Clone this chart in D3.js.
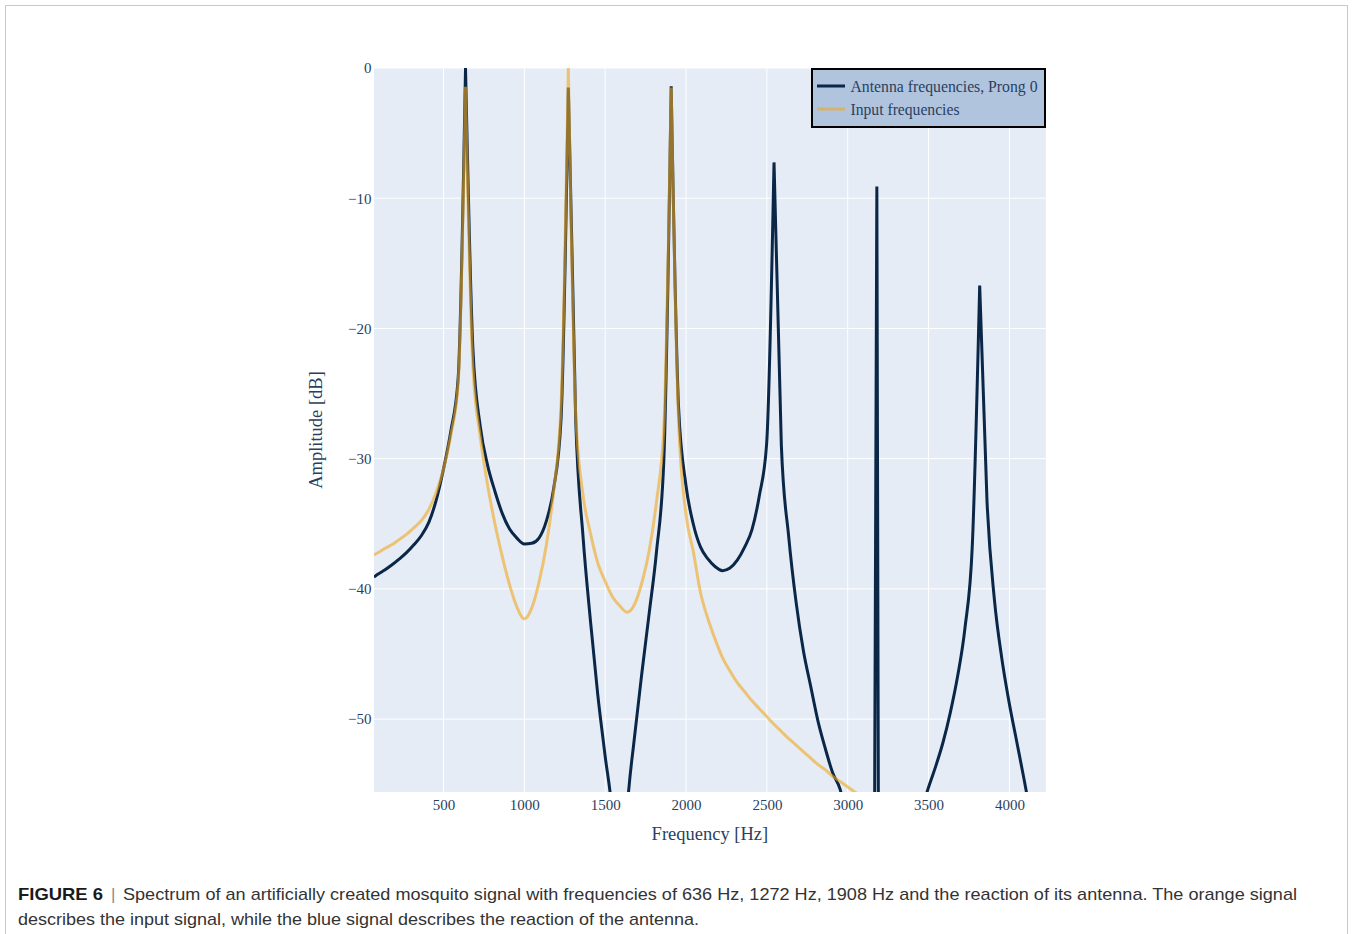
<!DOCTYPE html>
<html>
<head>
<meta charset="utf-8">
<script src="https://cdn.jsdelivr.net/npm/d3@7"></script>
<style>
  body { margin: 0; background: #ffffff; }
  svg { display: block; }
</style>
</head>
<body>
<svg id="fig" width="1352" height="934"></svg>
<script>
// Frequency bins of the spectrum [Hz]
const freqHz = [
  70, 90.9, 136.3, 181.7, 227.1, 272.6, 318.0, 363.4, 408.9, 454.3,
  499.7, 545.1, 590.6, 636, 681.4, 726.9, 772.3, 817.7, 863.1, 908.6,
  954, 999.4, 1044.9, 1090.3, 1135.7, 1181.1, 1226.6, 1272, 1317.4, 1362.9,
  1408.3, 1453.7, 1499.1, 1544.6, 1590, 1635.4, 1680.9, 1726.3, 1771.7, 1817.1,
  1862.6, 1908, 1953.4, 1998.9, 2044.3, 2089.7, 2135.1, 2180.6, 2226, 2271.4,
  2316.9, 2362.3, 2407.7, 2453.1, 2498.6, 2544, 2589.4, 2634.9, 2680.3, 2725.7,
  2771.1, 2816.6, 2862, 2907.4, 2952.9, 2998.3, 3043.7, 3089.1, 3134.6, 3180,
  3225.4, 3270.9, 3316.3, 3361.7, 3407.1, 3452.6, 3498, 3543.4, 3588.9, 3634.3,
  3679.7, 3725.1, 3770.6, 3816, 3861.4, 3906.9, 3952.3, 3997.7, 4043.1, 4088.6,
  4134, 4179.4, 4224.9
];

// Antenna response, prong 0 [dB]
const antennaDb = [
  -39.1, -38.9, -38.55, -38.15, -37.7, -37.2, -36.6, -35.9, -34.9, -33.2,
  -30.8, -27.9, -23.8, 0, -21.5, -27.5, -30.5, -32.5, -34.2, -35.4,
  -36.1, -36.55, -36.5, -36.1, -34.8, -32.3, -27.0, -1.5, -27.0, -36.0,
  -42.4, -48.1, -52.8, -57.5, -68, -57.0, -51.4, -46.5, -41.9, -37.15,
  -30.1, -1.4, -26.0, -32.0, -35.0, -36.8, -37.7, -38.3, -38.6, -38.4,
  -37.8, -36.8, -35.45, -32.85, -28.8, -7.25, -29.0, -36.0, -41.0, -44.75,
  -47.5, -50.2, -52.3, -54.15, -55.4, -58.0, -62.0, -70.0, -165, -9.1,
  -165, -70, -64, -61, -59, -57.2, -55.3, -53.65, -51.8, -49.5,
  -46.7, -43.0, -36.6, -16.7, -33.3, -40.8, -45.3, -48.7, -51.6, -54.5,
  -57.5, -60, -62
];

// Input signal [dB]
const inputDb = [
  -37.4, -37.25, -36.9, -36.6, -36.2, -35.8, -35.3, -34.75, -33.9, -32.6,
  -30.8, -28.2, -24.2, -1.45, -22.9, -28.3, -32.0, -35.0, -37.5, -39.7,
  -41.4, -42.3, -41.5, -39.5, -36.65, -32.5, -26.0, 0, -26.5, -32.8,
  -35.7, -38.0, -39.4, -40.6, -41.3, -41.8, -41.2, -39.55, -37.1, -33.3,
  -27.6, -1.5, -27.0, -34.2, -37.1, -40.3, -42.3, -43.9, -45.3, -46.3,
  -47.2, -47.9, -48.6, -49.2, -49.8, -50.4, -50.95, -51.5, -52.0, -52.5,
  -53.0, -53.5, -53.9, -54.4, -54.8, -55.2, -55.6, -56.0, -56.4, -56.8,
  -57.1, -57.5, -57.8, -58.1, -58.4, -58.7, -59.0, -59.3, -59.5, -59.8,
  -60.0, -60.3, -60.5, -60.7, -61.0, -61.2, -61.4, -61.6, -61.8, -62.0,
  -62.2, -62.4, -62.6
];

const seriesNames = ["Antenna frequencies, Prong 0", "Input frequencies"];
const xTicks = [500, 1000, 1500, 2000, 2500, 3000, 3500, 4000];
const yTicks = [0, -10, -20, -30, -40, -50];
const yRange = [-55.6, 0];

const serif = "'Liberation Serif', 'Times New Roman', serif";
const sans = "'Liberation Sans', Arial, Helvetica, sans-serif";
const axisColor = "#2a3f5f";
const navy = "#0a2748";
const orange = "#f0a81e";

const svg = d3.select("#fig");

// figure frame
svg.append("rect")
  .attr("x", 5.5).attr("y", 5.5)
  .attr("width", 1342).attr("height", 960)
  .attr("fill", "none").attr("stroke", "#c9c9c9").attr("stroke-width", 1);

const plot = { left: 374, right: 1045.8, top: 68, bottom: 792 };

const x = d3.scaleLinear()
  .domain([freqHz[0], freqHz[freqHz.length - 1]])
  .range([plot.left, plot.right]);
const y = d3.scaleLinear().domain(yRange).range([plot.bottom, plot.top]);

// plot background
svg.append("rect")
  .attr("x", plot.left).attr("y", plot.top)
  .attr("width", plot.right - plot.left).attr("height", plot.bottom - plot.top)
  .attr("fill", "#e5ecf6");

// grid
const grid = svg.append("g");
grid.selectAll("line.vx").data(xTicks).join("line")
  .attr("x1", d => x(d)).attr("x2", d => x(d))
  .attr("y1", plot.top).attr("y2", plot.bottom)
  .attr("stroke", "#ffffff").attr("stroke-width", 1);
grid.selectAll("line.hy").data(yTicks).join("line")
  .attr("x1", plot.left).attr("x2", plot.right)
  .attr("y1", d => y(d)).attr("y2", d => y(d))
  .attr("stroke", "#ffffff").attr("stroke-width", 1);

// axes (labels only)
const xAxis = svg.append("g")
  .attr("transform", `translate(0,${plot.bottom})`)
  .call(d3.axisBottom(x).tickValues(xTicks).tickSize(0).tickPadding(7.5).tickFormat(d3.format("d")));
const yAxis = svg.append("g")
  .attr("transform", `translate(${plot.left},0)`)
  .call(d3.axisLeft(y).tickValues(yTicks).tickSize(0).tickPadding(2.5).tickFormat(d3.format("d")));
[xAxis, yAxis].forEach(a => {
  a.select(".domain").remove();
  a.selectAll("text")
    .attr("font-family", serif).attr("font-size", 15).attr("fill", axisColor);
});

// axis titles
svg.append("text")
  .attr("x", (plot.left + plot.right) / 2).attr("y", 840)
  .attr("text-anchor", "middle")
  .attr("font-family", serif).attr("font-size", 18.5).attr("fill", axisColor)
  .text("Frequency [Hz]");
svg.append("text")
  .attr("transform", `translate(322,${(plot.top + plot.bottom) / 2}) rotate(-90)`)
  .attr("text-anchor", "middle")
  .attr("font-family", serif).attr("font-size", 18.5).attr("fill", axisColor)
  .text("Amplitude [dB]");

// traces
svg.append("clipPath").attr("id", "plotClip")
  .append("rect")
  .attr("x", plot.left).attr("y", plot.top - 2)
  .attr("width", plot.right - plot.left).attr("height", plot.bottom - plot.top + 2);

const line = d3.line().x(d => x(d[0])).y(d => y(d[1])).curve(d3.curveMonotoneX);

// Smooth between resonance peaks, keep the peaks themselves sharp:
// each stretch from one local maximum to the next is its own sub-path.
function spectrumPath(values) {
  const pts = freqHz.map((f, i) => [f, values[i]]);
  const cuts = [0];
  for (let i = 1; i < values.length - 1; i++) {
    if (values[i] > values[i - 1] && values[i] > values[i + 1]) cuts.push(i);
  }
  cuts.push(values.length - 1);
  return d3.pairs(cuts).map(([a, b]) => line(pts.slice(a, b + 1))).join("");
}

const traces = svg.append("g").attr("clip-path", "url(#plotClip)");
traces.append("path")
  .attr("d", spectrumPath(antennaDb))
  .attr("fill", "none").attr("stroke", navy).attr("stroke-width", 3);
traces.append("path")
  .attr("d", spectrumPath(inputDb))
  .attr("fill", "none").attr("stroke", orange).attr("stroke-opacity", 0.6).attr("stroke-width", 3);

// legend
const legend = svg.append("g");
legend.append("rect")
  .attr("x", 812).attr("y", 69).attr("width", 233).attr("height", 58)
  .attr("fill", "#b0c4de").attr("stroke", "#000000").attr("stroke-width", 2);
const legendItems = [
  { name: seriesNames[0], color: navy, opacity: 1, cy: 86, len: 187 },
  { name: seriesNames[1], color: orange, opacity: 0.6, cy: 109, len: 109 }
];
legendItems.forEach(it => {
  legend.append("line")
    .attr("x1", 817).attr("x2", 845).attr("y1", it.cy).attr("y2", it.cy)
    .attr("stroke", it.color).attr("stroke-opacity", it.opacity).attr("stroke-width", 3);
  legend.append("text")
    .attr("x", 850.5).attr("y", it.cy + 5.5)
    .attr("font-family", serif).attr("font-size", 16).attr("fill", axisColor)
    .attr("textLength", it.len).attr("lengthAdjust", "spacingAndGlyphs")
    .text(it.name);
});

// caption
const cap = svg.append("g");
cap.append("text")
  .attr("x", 18).attr("y", 900)
  .attr("font-family", sans).attr("font-weight", "bold").attr("font-size", 17).attr("fill", "#1a1a1a")
  .attr("textLength", 85).attr("lengthAdjust", "spacingAndGlyphs")
  .text("FIGURE 6");
cap.append("text")
  .attr("x", 111).attr("y", 900)
  .attr("font-family", sans).attr("font-size", 17).attr("fill", "#8a8a8a")
  .text("|");
cap.append("text")
  .attr("x", 123).attr("y", 900)
  .attr("font-family", sans).attr("font-size", 17).attr("fill", "#333333")
  .attr("textLength", 1174).attr("lengthAdjust", "spacingAndGlyphs")
  .text("Spectrum of an artificially created mosquito signal with frequencies of 636 Hz, 1272 Hz, 1908 Hz and the reaction of its antenna. The orange signal");
cap.append("text")
  .attr("x", 18).attr("y", 925)
  .attr("font-family", sans).attr("font-size", 17).attr("fill", "#333333")
  .attr("textLength", 681).attr("lengthAdjust", "spacingAndGlyphs")
  .text("describes the input signal, while the blue signal describes the reaction of the antenna.");
</script>
</body>
</html>
